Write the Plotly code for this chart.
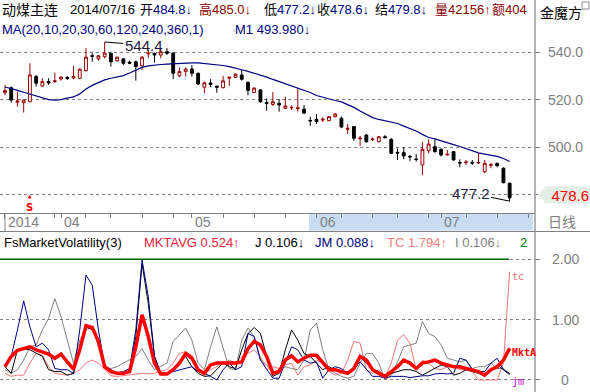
import plotly.graph_objects as go

W, H = 590, 392

# ---------------- data ----------------
opens = [523.0, 525.1, 519.0, 518.8, 519.2, 529.8, 525.8, 527.7, 527.7, 528.8,
         529.4, 529.2, 529.1, 532.3, 538.6, 537.3, 538.2, 539.7, 536.5, 537.3,
         535.9, 536.1, 534.3, 539.4, 539.6, 538.9, 540.3, 539.7, 530.1, 531.9,
         533.0, 531.2, 525.3, 527.1, 525.8, 525.1, 529.1, 529.4, 530.5, 527.4,
         523.1, 524.2, 518.8, 518.0, 518.5, 516.4, 516.6, 516.3, 516.1, 511.3,
         511.8, 511.4, 511.2, 512.9, 512.2, 507.5, 508.7, 503.6, 505.1, 503.2,
         502.3, 504.4, 503.3, 497.8, 497.7, 496.1, 495.0, 492.5, 498.5, 500.2,
         499.1, 496.7, 498.1, 493.5, 493.5, 493.5, 493.3, 489.6, 492.3, 493.2,
         491.1, 484.8]
highs = [526.3, 525.6, 523.4, 520.0, 535.4, 530.5, 529.1, 529.1, 531.5, 529.9,
         530.1, 534.3, 533.3, 541.8, 539.7, 538.9, 544.4, 539.9, 538.2, 537.5,
         536.5, 536.5, 538.5, 541.1, 539.9, 541.4, 541.8, 540.2, 533.7, 533.7,
         534.7, 531.5, 527.7, 528.7, 525.8, 530.1, 529.8, 531.2, 532.6, 527.7,
         525.4, 524.5, 520.6, 523.3, 520.4, 521.2, 517.6, 524.9, 517.8, 512.8,
         514.0, 512.6, 513.0, 514.3, 512.9, 509.8, 508.9, 504.7, 505.6, 504.2,
         504.6, 505.1, 503.8, 499.5, 500.0, 496.7, 497.1, 502.3, 503.3, 503.3,
         499.5, 498.8, 498.4, 494.9, 494.6, 494.6, 497.4, 494.6, 493.4, 493.4,
         491.5, 485.0]
lows = [522.0, 518.8, 517.1, 514.6, 519.0, 525.6, 525.6, 526.3, 527.2, 528.1,
        528.4, 528.7, 528.8, 531.9, 536.1, 536.5, 537.5, 534.0, 536.1, 534.7,
        535.1, 528.1, 532.6, 537.7, 535.7, 537.5, 538.9, 528.7, 529.5, 529.8,
        529.8, 526.3, 522.8, 525.3, 523.0, 524.9, 525.8, 529.2, 528.1, 521.9,
        522.8, 518.7, 515.4, 517.4, 515.0, 516.1, 515.7, 515.0, 514.0, 509.0,
        509.8, 510.6, 511.0, 512.6, 508.0, 505.6, 502.7, 500.5, 501.9, 502.6,
        502.0, 503.8, 497.1, 494.6, 494.9, 494.2, 493.9, 488.2, 497.4, 497.7,
        496.0, 496.5, 494.3, 491.5, 492.5, 492.5, 492.9, 489.0, 491.1, 491.5,
        484.7, 477.2]
closes = [523.9, 519.9, 519.5, 519.9, 530.5, 527.0, 527.7, 527.1, 528.0, 529.6,
          529.1, 529.8, 532.9, 538.0, 538.4, 538.6, 539.7, 536.1, 538.0, 535.4,
          535.4, 534.0, 538.0, 539.7, 538.9, 540.3, 539.7, 531.2, 531.9, 533.0,
          531.2, 526.7, 527.2, 526.5, 525.3, 528.0, 529.5, 530.8, 528.7, 524.0,
          524.9, 519.2, 518.5, 519.2, 517.8, 517.4, 516.8, 516.6, 514.4, 511.1,
          510.8, 511.8, 512.9, 514.0, 508.5, 508.0, 503.8, 503.8, 502.3, 503.4,
          504.4, 504.0, 497.4, 497.5, 496.3, 495.9, 494.8, 499.1, 501.3, 498.1,
          496.7, 497.0, 494.6, 493.3, 493.7, 493.3, 493.5, 493.2, 492.6, 492.2,
          485.0, 478.6]
ma20 = [525.4, 524.8, 524.0, 523.2, 522.4, 521.7, 520.9, 520.1, 519.9, 520.1,
        520.7, 521.2, 522.5, 524.6, 526.1, 527.3, 528.4, 529.1, 529.6, 530.2,
        531.3, 532.6, 533.7, 534.3, 534.7, 534.9, 535.1, 535.3, 535.5, 535.6,
        535.6, 535.6, 535.4, 535.1, 534.8, 534.5, 534.0, 533.5, 532.7, 532.0,
        531.3, 530.5, 529.6, 528.6, 527.7, 526.8, 525.8, 524.9, 524.2, 523.1,
        521.8, 521.0, 520.3, 519.7, 519.1, 518.0, 516.8, 515.3, 513.8, 512.5,
        511.7, 511.2, 510.6, 510.0, 508.9, 507.9, 506.8, 505.4, 504.1, 503.5,
        502.8, 502.0, 501.1, 500.3, 499.4, 498.4, 497.6, 497.1, 496.7, 496.1,
        495.2, 493.98]

mktavg = [0.22, 0.39, 0.49, 0.52, 0.55, 0.50, 0.47, 0.43, 0.36, 0.43,
          0.30, 0.18, 0.50, 0.90, 0.87, 0.64, 0.22, 0.14, 0.11, 0.11,
          0.14, 0.55, 1.08, 0.72, 0.28, 0.10, 0.10, 0.17, 0.28, 0.44,
          0.36, 0.17, 0.11, 0.25, 0.28, 0.28, 0.29, 0.28, 0.30, 0.52,
          0.64, 0.58, 0.39, 0.11, 0.14, 0.33, 0.40, 0.30, 0.36, 0.41,
          0.41, 0.28, 0.17, 0.17, 0.14, 0.11, 0.19, 0.39, 0.33, 0.17,
          0.11, 0.06, 0.14, 0.22, 0.33, 0.28, 0.19, 0.28, 0.30, 0.33,
          0.28, 0.25, 0.22, 0.22, 0.19, 0.17, 0.14, 0.08, 0.17, 0.22,
          0.33, 0.524]
j_vals = [0.22, 0.11, 0.50, 0.52, 0.50, 0.44, 0.39, 0.17, 0.14, 0.14,
          0.08, 0.11, 0.55, 0.88, 0.83, 0.66, 0.22, 0.17, 0.12, 0.12,
          0.14, 0.72, 1.93, 1.27, 0.39, 0.11, 0.11, 0.19, 0.30, 0.39,
          0.22, 0.11, 0.06, 0.07, 0.17, 0.28, 0.22, 0.19, 0.50, 0.77,
          0.87, 0.77, 0.39, 0.06, 0.11, 0.50, 0.83, 0.66, 0.44, 0.39,
          0.28, 0.17, 0.22, 0.17, 0.14, 0.14, 0.17, 0.39, 0.28, 0.17,
          0.14, 0.03, 0.11, 0.14, 0.17, 0.17, 0.14, 0.08, 0.14, 0.19,
          0.25, 0.22, 0.08, 0.11, 0.17, 0.14, 0.11, 0.06, 0.17, 0.25,
          0.17, 0.106]
jm_vals = [0.22, 0.39, 0.83, 1.31, 0.88, 0.55, 0.61, 0.50, 0.19, 0.17,
           0.17, 0.11, 0.83, 1.74, 1.57, 0.83, 0.22, 0.17, 0.11, 0.14,
           0.19, 0.83, 1.99, 1.38, 0.39, 0.11, 0.11, 0.14, 0.17, 0.19,
           0.22, 0.14, 0.11, 0.06, 0.00, 0.17, 0.28, 0.17, 0.22, 0.77,
           0.72, 0.33, 0.17, 0.03, 0.03, 0.28, 0.55, 0.50, 0.33, 0.28,
           0.30, 0.03, 0.17, 0.22, 0.19, 0.11, 0.19, 0.30, 0.17, 0.06,
           0.06, 0.03, 0.06, 0.06, 0.06, 0.04, 0.06, 0.07, 0.07, 0.10,
           0.11, 0.10, 0.11, 0.36, 0.33, 0.17, 0.14, 0.14, 0.28, 0.36,
           0.17, 0.088]
tc_vals = [0.11, 0.06, 0.08, 0.08, 0.28, 0.44, 0.41, 0.22, 0.11, 0.10,
           0.08, 0.11, 0.17, 0.28, 0.33, 0.28, 0.17, 0.07, 0.06, 0.07,
           0.08, 0.10, 0.11, 0.10, 0.11, 0.14, 0.17, 0.28, 0.44, 0.47,
           0.41, 0.19, 0.11, 0.17, 0.22, 0.28, 0.33, 0.28, 0.39, 0.44,
           0.50, 0.39, 0.17, 0.22, 0.19, 0.25, 0.28, 0.08, 0.22, 0.25,
           0.33, 0.28, 0.14, 0.08, 0.11, 0.33, 0.64, 0.61, 0.17, 0.11,
           0.17, 0.06, 0.28, 0.66, 0.75, 0.61, 0.17, 0.33, 0.28, 0.19,
           0.17, 0.22, 0.22, 0.17, 0.17, 0.14, 0.00, 0.00, 0.00, 0.00,
           0.28, 1.794]
i_vals = [0.17, 0.11, 0.17, 0.33, 0.55, 0.58, 0.83, 1.02, 1.35, 1.05,
          0.66, 0.28, 0.66, 0.83, 0.88, 0.55, 0.22, 0.19, 0.22, 0.28,
          0.33, 0.39, 0.52, 0.33, 0.17, 0.22, 0.28, 0.64, 0.75, 0.86,
          0.66, 0.28, 0.17, 0.55, 0.88, 0.55, 0.19, 0.17, 0.66, 0.86,
          0.72, 0.33, 0.25, 0.11, 0.17, 0.22, 0.19, 0.17, 0.33, 0.83,
          0.94, 0.50, 0.17, 0.11, 0.06, 0.03, 0.06, 0.28, 0.44, 0.44,
          0.28, 0.00, 0.08, 0.30, 0.55, 0.58, 0.61, 0.97, 0.77, 0.72,
          0.58, 0.36, 0.33, 0.30, 0.33, 0.19, 0.22, 0.22, 0.28, 0.19,
          0.19, 0.106]

month_labels = ["2014", "04", "05", "06", "07"]
month_pos = [0, 9, 30, 50, 70]
week_ticks = [0, 8, 9, 13, 17, 22, 27, 30, 35, 40, 45, 50, 54, 59, 63, 68, 70, 74, 79, 84]
price_ticks = [480, 500, 520, 540]
price_ticktext = ["480.0", "500.0", "520.0", "540.0"]
vol_ticks = [0, 1, 2]
vol_ticktext = ["0", "1.00", "2.00"]

idx = list(range(len(closes)))

# ---------------- helpers (pixel -> paper) ----------------
def px(x):
    return x / W

def py(y):
    return 1 - y / H

FONT = "Liberation Sans, Arial, Noto Sans CJK SC, sans-serif"
GRAY = "#808080"

fig = go.Figure()

# Candles
fig.add_trace(go.Candlestick(
    x=idx, open=opens, high=highs, low=lows, close=closes,
    increasing=dict(line=dict(color="#990000", width=1), fillcolor="#ffffff"),
    decreasing=dict(line=dict(color="#000000", width=1), fillcolor="#000000"),
    whiskerwidth=0, xaxis="x", yaxis="y", hoverinfo="skip",
))
fig.add_trace(go.Scatter(x=idx, y=ma20, mode="lines",
                         line=dict(color="#000080", width=1.2),
                         xaxis="x", yaxis="y", hoverinfo="skip"))

# Lower indicator lines
fig.add_trace(go.Scatter(x=idx, y=i_vals, mode="lines", line=dict(color="#808080", width=1),
                         xaxis="x2", yaxis="y2", hoverinfo="skip"))
fig.add_trace(go.Scatter(x=idx, y=tc_vals, mode="lines", line=dict(color="#F07878", width=1),
                         xaxis="x2", yaxis="y2", hoverinfo="skip"))
fig.add_trace(go.Scatter(x=idx, y=j_vals, mode="lines", line=dict(color="#000000", width=1),
                         xaxis="x2", yaxis="y2", hoverinfo="skip"))
fig.add_trace(go.Scatter(x=idx, y=jm_vals, mode="lines", line=dict(color="#000080", width=1),
                         xaxis="x2", yaxis="y2", hoverinfo="skip"))
fig.add_trace(go.Scatter(x=idx, y=mktavg, mode="lines", line=dict(color="#FF0000", width=3.5),
                         xaxis="x2", yaxis="y2", hoverinfo="skip"))

xr = [-0.8, 85.07]
xdom = [0, px(535)]

shapes = []
annotations = []

# date row band
shapes.append(dict(type="rect", xref="paper", yref="paper", x0=px(309), x1=px(533),
                   y0=py(230.5), y1=py(213.5), fillcolor="#C8DCF2", line=dict(width=0), layer="below"))
# separators
shapes.append(dict(type="line", xref="paper", yref="paper", x0=px(535), x1=px(535), y0=0, y1=1,
                   line=dict(color=GRAY, width=1.2)))
shapes.append(dict(type="line", xref="paper", yref="paper", x0=0, x1=1, y0=py(231.5), y1=py(231.5),
                   line=dict(color=GRAY, width=1.2)))
# year tick
shapes.append(dict(type="line", xref="x", yref="paper", x0=month_pos[0], x1=month_pos[0],
                   y0=py(213), y1=py(231), line=dict(color=GRAY, width=1)))
# green 2.00 line
shapes.append(dict(type="line", xref="paper", yref="y2", x0=0, x1=px(509), y0=2, y1=2,
                   line=dict(color="#006600", width=1.5)))
# small icon
shapes.append(dict(type="rect", xref="paper", yref="paper", x0=px(582), x1=px(589),
                   y0=py(9), y1=py(2), line=dict(color="#909090", width=1), fillcolor="#ffffff"))
# price label pointer
shapes.append(dict(type="path", xref="paper", yref="paper",
                   path=f"M {px(538)} {py(194.5)} L {px(546)} {py(186.5)} L {px(590)} {py(186.5)} L {px(590)} {py(202.5)} L {px(546)} {py(202.5)} Z",
                   fillcolor="#E4EEE4", line=dict(width=0)))

def ann(x, y, text, size=13, color="#000000", xanchor="left", **kw):
    d = dict(x=px(x), y=py(y), xref="paper", yref="paper", text=text, showarrow=False,
             xanchor=xanchor, yanchor="middle", font=dict(family=FONT, size=size, color=color))
    d.update(kw)
    annotations.append(d)

NAVY = "#000080"
DRED = "#8B0000"
# header line 1
ann(0, 10, "动煤主连", 14)
ann(68, 10, "2014/07/16", 13)
ann(138, 10, f"开<span style='color:{NAVY}'>484.8↓</span>", 13)
ann(197, 10, f"<span style='color:{DRED}'>高485.0↓</span>", 13)
ann(262, 10, f"低<span style='color:{NAVY}'>477.2↓</span>", 13)
ann(315, 10, f"收<span style='color:{NAVY}'>478.6↓</span>", 13)
ann(373, 10, f"结<span style='color:{NAVY}'>479.8↓</span>", 13)
ann(433, 10, f"<span style='color:{DRED}'>量42156↑</span>", 13)
ann(490, 10, f"<span style='color:{DRED}'>额404</span>", 13)
ann(538, 13, "金魔方", 14)
# header line 2
ann(0, 29, "MA(20,10,20,30,60,120,240,360,1)", 13, NAVY)
ann(233, 29, "M1 493.980↓", 13, NAVY)
# lower header
ann(2, 242, "FsMarketVolatility(3)", 13, "#000000")
ann(142, 242, "MKTAVG 0.524↑", 13, "#F0203C")
ann(253, 242, "J 0.106↓", 13, "#000000")
ann(313, 242, "JM 0.088↓", 13, NAVY)
ann(385, 242, "TC 1.794↑", 13, "#F08080")
ann(453, 242, "I 0.106↓", 13, GRAY)
ann(518, 242, "2", 13, "#008000")
# date row
ann(562, 222, "日线", 14, GRAY, xanchor="center")
for lab, pos in zip(month_labels, month_pos):
    annotations.append(dict(x=pos, y=py(222), xref="x", yref="paper", text=lab, showarrow=False,
                            xanchor="left", yanchor="middle", xshift=1,
                            font=dict(family=FONT, size=14, color=GRAY)))
# right axis labels
for v, t in zip(price_ticks, price_ticktext):
    annotations.append(dict(x=px(565), y=v, xref="paper", yref="y", text=t, showarrow=False,
                            xanchor="center", yanchor="middle",
                            font=dict(family=FONT, size=14, color=GRAY)))
for v, t in zip(vol_ticks, vol_ticktext):
    annotations.append(dict(x=px(565), y=v, xref="paper", yref="y2", text=t, showarrow=False,
                            xanchor="center", yanchor="middle",
                            font=dict(family=FONT, size=14, color=GRAY)))
# last price tag (covers the 480.0 label as in the original)
annotations.append(dict(x=1, y=py(194.5), xref="paper", yref="paper", text=f"{closes[-1]:.1f}",
                        showarrow=False, xanchor="right", yanchor="middle", align="right",
                        width=44, height=16, bgcolor="#E4EEE4", borderpad=0,
                        font=dict(family=FONT, size=15, color="#FF0000")))
# high / low labels
hi_i = highs.index(max(highs))
lo_i = lows.index(min(lows))
annotations.append(dict(x=hi_i, y=highs[hi_i], xref="x", yref="y", text=f"{highs[hi_i]:.1f}",
                        showarrow=True, arrowhead=0, arrowwidth=1, arrowcolor="#000000",
                        ax=39, ay=3, font=dict(family=FONT, size=15, color="#1a1a40")))
annotations.append(dict(x=lo_i, y=lows[lo_i], xref="x", yref="y", text=f"{lows[lo_i]:.1f}",
                        showarrow=True, arrowhead=0, arrowwidth=1, arrowcolor="#000000",
                        ax=-39, ay=-8, font=dict(family=FONT, size=15, color="#1a1a40")))
# signal S
annotations.append(dict(x=4, y=py(203), xref="x", yref="paper",
                        text="<span style='font-size:5px'>▲</span><br><b>S</b>", showarrow=False,
                        font=dict(family="DejaVu Sans", size=10, color="#FF0000")))
# line end labels
last = idx[-1]
annotations.append(dict(x=last, y=1.71, xref="x2", yref="y2", text="tc", showarrow=False, xanchor="left",
                        xshift=0, font=dict(family="DejaVu Sans Mono", size=10, color="#F07070")))
annotations.append(dict(x=last, y=0.45, xref="x2", yref="y2", text="<b>MktA</b>", showarrow=False,
                        xanchor="left", font=dict(family="DejaVu Sans Mono", size=10, color="#FF0000")))
annotations.append(dict(x=last, y=-0.02, xref="x2", yref="y2", text="jm", showarrow=False,
                        xanchor="left", font=dict(family="DejaVu Sans Mono", size=10, color="#CC00CC")))

fig.update_layout(
    width=W, height=H, margin=dict(l=0, r=0, t=0, b=0),
    paper_bgcolor="#ffffff", plot_bgcolor="#ffffff", showlegend=False,
    boxgap=0.35,
    xaxis=dict(domain=xdom, range=xr, anchor="y", rangeslider=dict(visible=False),
               showgrid=False, zeroline=False, showticklabels=False,
               tickmode="array", tickvals=week_ticks, ticks="outside", ticklen=4,
               tickcolor=GRAY, showline=True, linecolor=GRAY, linewidth=1),
    yaxis=dict(domain=[py(213), py(38)], range=[472.2, 546.1], side="right", anchor="x",
               tickmode="array", tickvals=price_ticks, showticklabels=False,
               ticks="outside", ticklen=4, tickcolor=GRAY,
               showgrid=True, gridcolor=GRAY, griddash="dot", gridwidth=1, zeroline=False),
    xaxis2=dict(domain=xdom, range=xr, anchor="y2", showgrid=False, zeroline=False,
                showticklabels=False, showline=False),
    yaxis2=dict(domain=[0, py(250)], range=[-0.199, 2.154], side="right", anchor="x2",
                tickmode="array", tickvals=vol_ticks, showticklabels=False,
                ticks="outside", ticklen=4, tickcolor=GRAY,
                showgrid=True, gridcolor=GRAY, griddash="dot", gridwidth=1, zeroline=False),
    shapes=shapes, annotations=annotations,
)

fig.write_html("out.html", config={"displayModeBar": False},
               post_script="document.body.style.margin='0px';document.body.style.overflow='hidden';")
